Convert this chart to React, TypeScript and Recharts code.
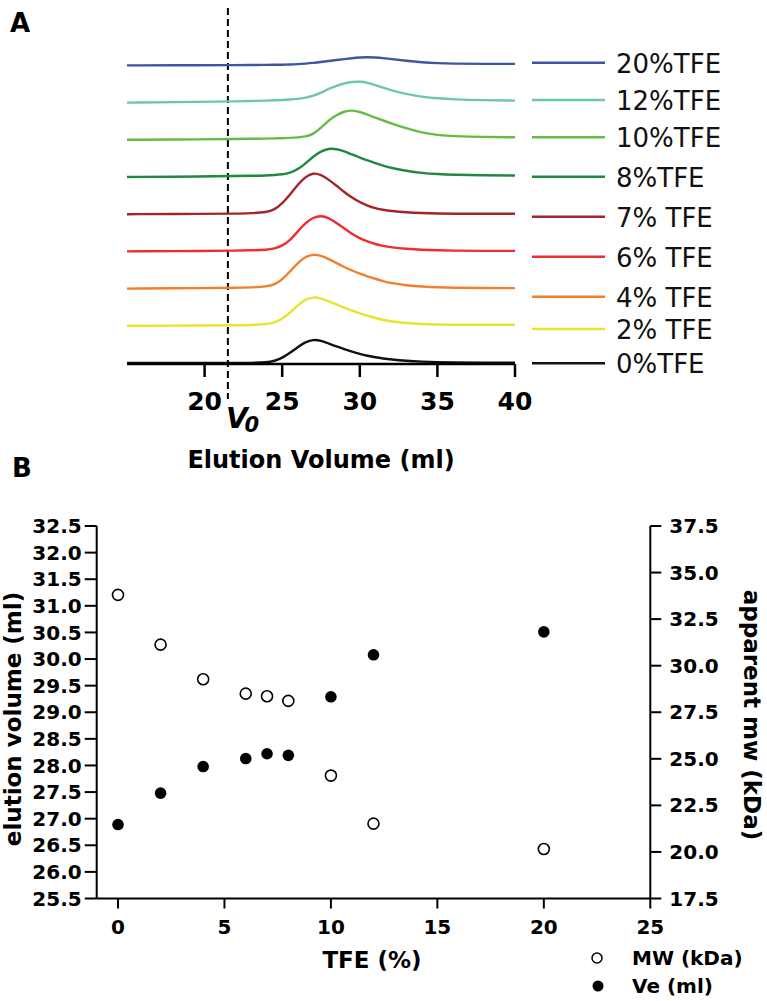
import { Legend, Line, LineChart, ReferenceLine, Scatter, ScatterChart, XAxis, YAxis } from "recharts";

// ---- panel A: elution profiles (height of each trace above its own baseline) ----
const elutionMl = [15, 20, 22, 23, 24, 24.5, 25, 25.5, 26, 26.5, 27, 27.5, 28, 28.5, 29, 29.5, 30, 30.5, 31, 31.5, 32, 33, 34, 35, 36, 38, 40];
const abs0 = [0, 0, 0, 0.1, 0.6, 2, 5, 10, 16, 21, 23.5, 22.5, 19.5, 16.5, 13.8, 11.3, 9, 7.2, 5.7, 4.5, 3.5, 2.1, 1.3, 0.8, 0.5, 0.3, 0.3];
const abs2 = [0, 0.3, 0.5, 0.8, 1.5, 3, 7, 13, 20.5, 26.5, 28.8, 27.5, 24.5, 21.5, 18, 15, 12.5, 10, 7.8, 5.8, 4.3, 2.6, 1.8, 1.3, 1, 1, 1];
const abs4 = [0, 0.5, 0.8, 1.2, 2, 4, 9, 17, 25.5, 32, 34.3, 33, 29.5, 25.5, 21.5, 18, 15, 12.3, 9.8, 7.5, 5.5, 3.2, 2, 1.3, 0.9, 0.6, 0.5];
const abs6 = [0, 0.5, 0.8, 1.1, 1.6, 2.8, 5.5, 11, 20, 28.5, 34, 35.8, 33.5, 28.5, 23, 17.5, 13, 9.8, 7.3, 5.4, 4, 2.5, 1.6, 1.1, 0.8, 0.5, 0.5];
const abs7 = [0, 0.3, 0.6, 1, 2, 4.5, 10.5, 19.5, 29.5, 37.5, 41.5, 39.5, 34.5, 28.5, 22, 16.5, 12, 8.5, 6, 4.3, 3.2, 1.8, 1.1, 0.7, 0.5, 0.4, 0.5];
const abs8 = [0, 0.5, 1, 1.2, 1.5, 2, 2.6, 4, 7.5, 13.5, 20.5, 25.8, 28.6, 28, 25.8, 22.5, 19.5, 16.5, 13.8, 11.3, 9.2, 6, 4, 2.9, 2.2, 1.6, 1.5];
const abs10 = [0, 0.5, 0.8, 1, 1.2, 1.4, 1.6, 1.9, 2.3, 3.2, 5.5, 12, 19.5, 24.8, 28.5, 29.6, 28, 25.2, 22, 19.3, 16.7, 11.5, 7, 4.8, 3.6, 2.8, 2.5];
const abs12 = [0, 0.8, 1.2, 1.6, 2, 2.3, 2.6, 3, 3.6, 4.8, 6.8, 9.8, 13.8, 16.8, 19.2, 20.8, 21, 20, 17.5, 15, 12.5, 8.5, 5.8, 4.2, 3.2, 2.4, 2];
const abs20 = [0, 0.2, 0.3, 0.4, 0.5, 0.6, 0.7, 0.9, 1.2, 1.8, 2.5, 3.4, 4.4, 5.4, 6.3, 7.2, 7.9, 8.2, 7.9, 7.3, 6.5, 4.5, 3, 2.2, 1.8, 1.5, 1.5];

const traceLabels = ["0%TFE", "2% TFE", "4% TFE", "6% TFE", "7% TFE", "8%TFE", "10%TFE", "12%TFE", "20%TFE"];
const traceColors = ["#111111", "#e6e42c", "#f47f2a", "#ee2d2d", "#a3252a", "#1f8a3e", "#66bb44", "#6ec9a0", "#3d55a6"];
const traceAbs = [abs0, abs2, abs4, abs6, abs7, abs8, abs10, abs12, abs20];
const elutionTicks = [20, 25, 30, 35, 40];
const voidVolume = 21.5;

// ---- panel B ----
const tfe = [0, 2, 4, 6, 7, 8, 10, 12, 20];
const elutionVe = [26.89, 27.48, 27.98, 28.13, 28.22, 28.19, 29.29, 30.08, 30.51];
const apparentMw = [33.8, 31.13, 29.27, 28.5, 28.36, 28.11, 24.1, 21.52, 20.16];
const veTicks = [25.5, 26, 26.5, 27, 27.5, 28, 28.5, 29, 29.5, 30, 30.5, 31, 31.5, 32, 32.5];
const mwTicks = [17.5, 20, 22.5, 25, 27.5, 30, 32.5, 35, 37.5];
const tfeTicks = [0, 5, 10, 15, 20, 25];

const TRACE_GAP = 37.2; // vertical stacking of the chromatograms

const traceRows = elutionMl.map((ml, i) => {
  const row: Record<string, number> = { ml };
  traceAbs.forEach((a, k) => {
    row["t" + k] = 1 + k * TRACE_GAP + a[i];
  });
  return row;
});

const tfeRows = tfe.map((t, i) => ({ tfe: t, ve: elutionVe[i], mw: apparentMw[i] }));

const legendRowY = [22.7, 60, 97.3, 136.7, 176.7, 216.7, 256.7, 289, 323.3];

function TraceLegend({ payload }: any) {
  // top row is the last trace (20%), bottom row the first (0%)
  const items = [...(payload ?? [])].sort((a: any, b: any) => traceLabels.indexOf(b.value) - traceLabels.indexOf(a.value));
  return (
    <svg width={247} height={360} style={{ overflow: "visible" }}>
      {items.map((p: any, i: number) => (
        <g key={p.value}>
          <line x1={12} x2={85} y1={legendRowY[i]} y2={legendRowY[i]} stroke={p.color} strokeWidth={2.5} />
          <text x={96} y={legendRowY[i] + 10} fontSize={26} fill="#111">
            {p.value}
          </text>
        </g>
      ))}
    </svg>
  );
}

function MarkerLegend({ payload }: any) {
  const items = [...(payload ?? [])].sort((a: any, b: any) => (a.value === "MW (kDa)" ? -1 : b.value === "MW (kDa)" ? 1 : 0));
  return (
    <svg width={187} height={60} style={{ overflow: "visible" }}>
      {items.map((p: any, i: number) => (
        <g key={p.value}>
          {i === 0 ? (
            <circle cx={17} cy={16} r={5} fill="#fff" stroke="#000" strokeWidth={1.5} />
          ) : (
            <circle cx={18} cy={44} r={5.5} fill="#000" />
          )}
          <text x={52} y={i === 0 ? 16 : 44} dy="0.36em" fontSize={20} fontWeight={700} fill="#000">
            {p.value}
          </text>
        </g>
      ))}
    </svg>
  );
}

const AbsLabel = () => (
  <text transform="translate(98,243) rotate(-90)" textAnchor="middle" fontSize={24} fontWeight={700} fill="#000">
    Abs{" "}
    <tspan fontSize={17} dy={5}>
      280
    </tspan>
    <tspan dy={-5}> (mAU)</tspan>
  </text>
);

const ElutionLabel = () => (
  <text x={321} y={459} dy="0.36em" textAnchor="middle" fontSize={24} fontWeight={700} fill="#000">
    Elution Volume (ml)
  </text>
);

const VoidLabel = ({ viewBox }: any) => (
  <text x={(viewBox?.x ?? 228) - 2} y={428} fontSize={28} fontWeight={700} fontStyle="italic" fill="#000">
    V
    <tspan fontSize={21} dx={-3} dy={4}>
      0
    </tspan>
  </text>
);

const VoidLine = (p: any) => {
  const top = Math.min(p.y1, p.y2);
  const bottom = Math.max(p.y1, p.y2);
  return <line x1={p.x1} x2={p.x2} y1={top} y2={bottom + 35} stroke="#000" strokeWidth={2} strokeDasharray="7 4" />;
};

const TfeLabel = () => (
  <text x={372} y={480} dy="0.36em" textAnchor="middle" fontSize={23} fontWeight={700} fill="#000">
    TFE (%)
  </text>
);

const VeLabel = () => (
  <text transform="translate(13,239) rotate(-90)" dy="0.36em" textAnchor="middle" fontSize={23} fontWeight={700} fill="#000">
    elution volume (ml)
  </text>
);

const MwLabel = () => (
  <text transform="translate(752,235) rotate(90)" dy="0.36em" textAnchor="middle" fontSize={23} fontWeight={700} fill="#000">
    apparent mw (kDa)
  </text>
);

const OpenDot = (p: any) => <circle cx={p.cx} cy={p.cy} r={5.5} fill="#fff" stroke="#000" strokeWidth={1.6} />;
const FilledDot = (p: any) => <circle cx={p.cx} cy={p.cy} r={5.8} fill="#000" />;

const axisStroke = { stroke: "#000", strokeWidth: 2 };
const tickB = { fontSize: 20, fontWeight: 700, fill: "#000" };

export default function App() {
  return (
    <div
      style={{
        position: "absolute",
        left: 0,
        top: 0,
        width: 767,
        height: 1001,
        background: "#fff",
        fontFamily: "'DejaVu Sans', Verdana, sans-serif",
      }}
    >
      <div style={{ position: "absolute", left: 10, top: 10, fontSize: 26, fontWeight: 700, lineHeight: "26px" }}>A</div>
      <div style={{ position: "absolute", left: 12, top: 455, fontSize: 26, fontWeight: 700, lineHeight: "26px" }}>B</div>

      <div style={{ position: "absolute", left: 0, top: 0 }}>
        <LineChart width={767} height={480} data={traceRows} margin={{ top: 8, right: 252, bottom: 76, left: 127 }}>
          <XAxis
            type="number"
            dataKey="ml"
            domain={[15, 40]}
            ticks={elutionTicks}
            interval={0}
            height={40}
            tickSize={13}
            tickMargin={15}
            axisLine={{ stroke: "#000", strokeWidth: 2.5 }}
            tickLine={{ stroke: "#000", strokeWidth: 2.5 }}
            tick={{ fontSize: 25, fontWeight: 700, fill: "#000" }}
            label={ElutionLabel}
          />
          <YAxis type="number" domain={[0, 356]} width={0} tick={false} axisLine={false} tickLine={false} label={AbsLabel} />
          <ReferenceLine x={voidVolume} shape={VoidLine} label={VoidLabel} />
          {traceAbs.map((_, k) => (
            <Line
              key={k}
              type="basis"
              dataKey={"t" + k}
              name={traceLabels[k]}
              stroke={traceColors[k]}
              strokeWidth={2.4}
              dot={false}
              activeDot={false}
              isAnimationActive={false}
            />
          ))}
          <Legend
            layout="horizontal"
            verticalAlign="middle"
            align="center"
            content={TraceLegend}
            wrapperStyle={{ left: 520, top: 40, width: 247, height: 360 }}
          />
        </LineChart>
      </div>

      <div style={{ position: "absolute", left: 0, top: 480 }}>
        <ScatterChart width={767} height={520} margin={{ top: 46, right: 36.7, bottom: 61.5, left: 16.7 }}>
          <XAxis
            type="number"
            dataKey="tfe"
            domain={[-1, 25]}
            ticks={tfeTicks}
            interval={0}
            height={40}
            tickSize={10}
            tickMargin={11}
            axisLine={axisStroke}
            tickLine={axisStroke}
            tick={tickB}
            label={TfeLabel}
          />
          <YAxis
            yAxisId="ve"
            orientation="left"
            type="number"
            dataKey="ve"
            domain={[25.5, 32.5]}
            ticks={veTicks}
            interval={0}
            width={80}
            tickSize={12}
            tickMargin={3}
            axisLine={axisStroke}
            tickLine={axisStroke}
            tick={tickB}
            tickFormatter={(v: number) => v.toFixed(1)}
            label={VeLabel}
          />
          <YAxis
            yAxisId="mw"
            orientation="right"
            type="number"
            dataKey="mw"
            domain={[17.5, 37.5]}
            ticks={mwTicks}
            interval={0}
            width={80}
            tickSize={11}
            tickMargin={8}
            axisLine={axisStroke}
            tickLine={axisStroke}
            tick={tickB}
            tickFormatter={(v: number) => v.toFixed(1)}
            label={MwLabel}
          />
          <Scatter name="MW (kDa)" data={tfeRows} yAxisId="mw" dataKey="mw" shape={OpenDot} isAnimationActive={false} />
          <Scatter name="Ve (ml)" data={tfeRows} yAxisId="ve" dataKey="ve" shape={FilledDot} isAnimationActive={false} />
          <Legend
            layout="horizontal"
            verticalAlign="middle"
            align="center"
            content={MarkerLegend}
            wrapperStyle={{ left: 580, top: 462, width: 187, height: 60 }}
          />
        </ScatterChart>
      </div>
    </div>
  );
}
